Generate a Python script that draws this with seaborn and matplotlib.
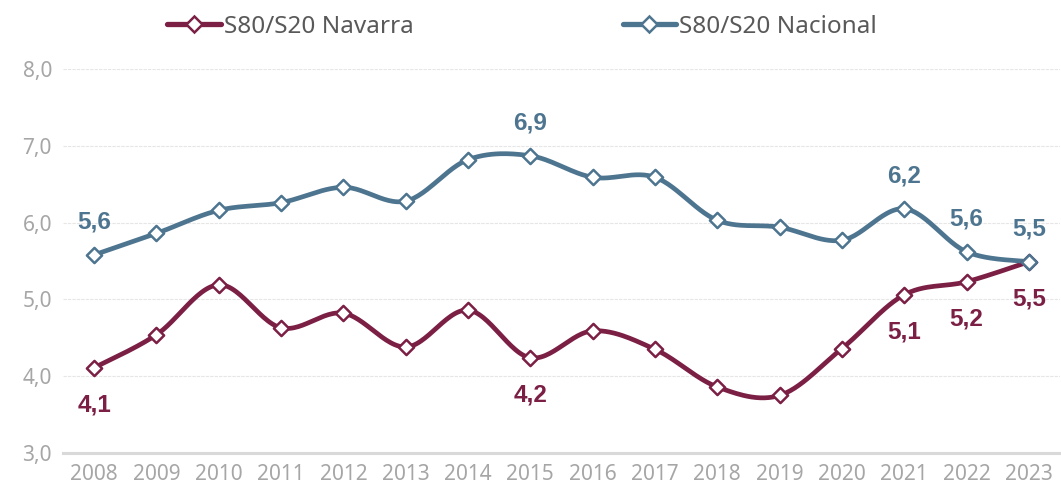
import numpy as np
import pandas as pd
import matplotlib
matplotlib.use("Agg")
import matplotlib.pyplot as plt
from matplotlib.lines import Line2D
import seaborn as sns

years = list(range(2008, 2024))
navarra = [4.11, 4.54, 5.19, 4.63, 4.82, 4.38, 4.86, 4.24, 4.59, 4.35, 3.86, 3.75, 4.36, 5.06, 5.23, 5.49]
nacional = [5.58, 5.86, 6.16, 6.26, 6.46, 6.28, 6.82, 6.87, 6.59, 6.59, 6.03, 5.94, 5.77, 6.18, 5.62, 5.49]
series_names = ["S80/S20 Navarra", "S80/S20 Nacional"]
colors = {"S80/S20 Navarra": "#7B1F44", "S80/S20 Nacional": "#4E7590"}

# years whose value is printed, above or below the point
labels_above = {"S80/S20 Nacional": [2008, 2015, 2021, 2022, 2023]}
labels_below = {"S80/S20 Navarra": [2008, 2015, 2021, 2022, 2023]}


def smooth(xs, ys, n=30):
    """Cubic Bezier smoothing through every point (Catmull-Rom style)."""
    xs = np.asarray(xs, float)
    ys = np.asarray(ys, float)
    px = np.concatenate([[xs[0]], xs, [xs[-1]]])
    py = np.concatenate([[ys[0]], ys, [ys[-1]]])
    out_x, out_y = [], []
    t = np.linspace(0, 1, n)
    for i in range(1, len(px) - 2):
        p0 = np.array([px[i], py[i]])
        p3 = np.array([px[i + 1], py[i + 1]])
        c1 = p0 + (np.array([px[i + 1], py[i + 1]]) - np.array([px[i - 1], py[i - 1]])) / 6
        c2 = p3 - (np.array([px[i + 2], py[i + 2]]) - np.array([px[i], py[i]])) / 6
        b = ((1 - t) ** 3)[:, None] * p0 + (3 * (1 - t) ** 2 * t)[:, None] * c1 \
            + (3 * (1 - t) * t ** 2)[:, None] * c2 + (t ** 3)[:, None] * p3
        if i > 1:
            b = b[1:]
        out_x.extend(b[:, 0])
        out_y.extend(b[:, 1])
    return np.array(out_x), np.array(out_y)


points = pd.DataFrame({
    "year": years * 2,
    "value": navarra + nacional,
    "series": [series_names[0]] * len(years) + [series_names[1]] * len(years),
})

curves = []
for name, vals in zip(series_names, [navarra, nacional]):
    sx, sy = smooth(years, vals)
    curves.append(pd.DataFrame({"year": sx, "value": sy, "series": name}))
curves = pd.concat(curves, ignore_index=True)

sns.set_theme(style="white")
plt.rcParams["font.family"] = ["Noto Sans", "DejaVu Sans"]

fig = plt.figure(figsize=(10.61, 4.94), dpi=100)
ax = fig.add_axes([63 / 1061, 1 - 453 / 494, 997 / 1061, (453 - 69) / 494])

sns.lineplot(data=curves, x="year", y="value", hue="series", palette=colors,
             linewidth=3.4, sort=False, estimator=None, legend=False, ax=ax, zorder=3)
for name in series_names:
    sub = points[points["series"] == name]
    sns.scatterplot(data=sub, x="year", y="value", marker="D", s=60,
                    color="white", edgecolor=colors[name], linewidth=1.8,
                    legend=False, ax=ax, zorder=4)

ax.set_xlim(2007.5, 2023.5)
ax.set_ylim(3.0, 8.0)
ax.set_xticks(years)
ax.set_xticklabels([str(y) for y in years])
ax.set_yticks([3, 4, 5, 6, 7, 8])
ax.set_yticklabels([f"{v:.1f}".replace(".", ",") for v in [3, 4, 5, 6, 7, 8]])
ax.tick_params(axis="both", colors="#A6A6A6", labelsize=15, length=0)
ax.tick_params(axis="x", pad=8)
ax.tick_params(axis="y", pad=8)
ax.set_xlabel("")
ax.set_ylabel("")
ax.grid(axis="y", color="#E6E6E6", linewidth=0.8, linestyle=(0, (3, 1)))
ax.set_axisbelow(True)
for side in ["left", "right", "top"]:
    ax.spines[side].set_visible(False)
ax.spines["bottom"].set_color("#D9D9D9")
ax.spines["bottom"].set_linewidth(2.2)

for name, vals in zip(series_names, [navarra, nacional]):
    for y, v in zip(years, vals):
        if y in labels_above.get(name, []):
            off = 33
        elif y in labels_below.get(name, []):
            off = -37
        else:
            continue
        ax.annotate(f"{v:.1f}".replace(".", ","), (y, v), textcoords="offset pixels",
                    xytext=(0, off), ha="center", va="center", fontsize=17.5,
                    fontweight="bold", family=["Liberation Sans", "DejaVu Sans"],
                    color=colors[name])

handles = [Line2D([0], [0], color=colors[n], linewidth=3.8, marker="D", markersize=8,
                  markerfacecolor="white", markeredgecolor=colors[n], markeredgewidth=1.8)
           for n in series_names]
fig.legend(handles, series_names, loc="center", bbox_to_anchor=(522 / 1061, 1 - 27 / 494),
           ncol=2, frameon=False, fontsize=17.5, handlelength=2.2, handletextpad=0.12,
           columnspacing=8.6, labelcolor="#595959")

fig.savefig("out.png", dpi=100)
